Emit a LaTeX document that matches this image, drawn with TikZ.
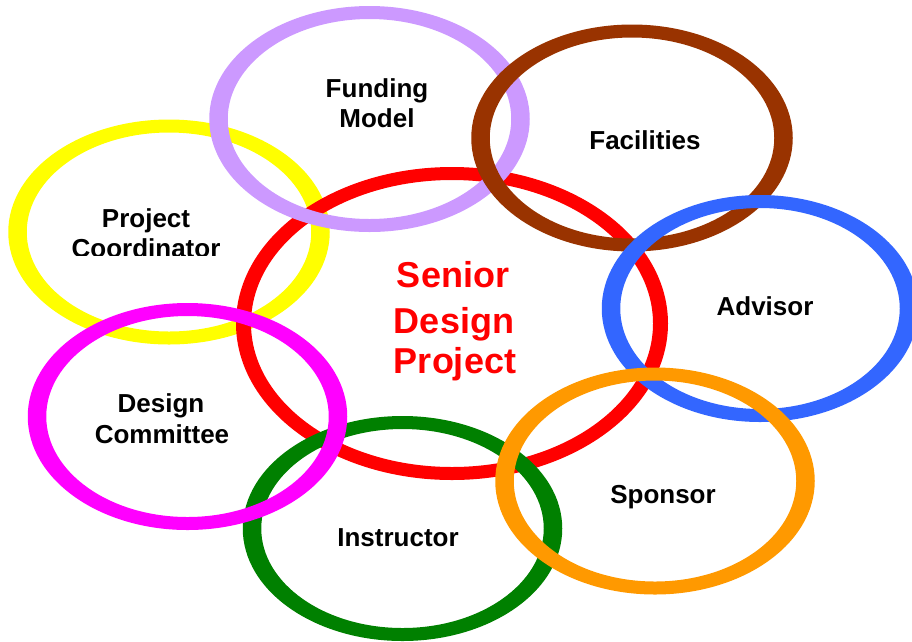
\documentclass[tikz,border=0pt]{standalone}
\usepackage{fontspec}
\setmainfont{Liberation Sans}
\definecolor{cpurple}{HTML}{CC99FF}
\definecolor{cbrown}{HTML}{993300}
\definecolor{cyellow}{HTML}{FFFF00}
\definecolor{cblue}{HTML}{3366FF}
\definecolor{cmagenta}{HTML}{FF00FF}
\definecolor{cgreen}{HTML}{008000}
\definecolor{corange}{HTML}{FF9900}
\definecolor{cred}{HTML}{FF0000}
% ring: colour, centre, x radius, y radius, half band width x, half band width y
\newcommand\myring[6]{%
  \fill[#1, even odd rule] (#2) ellipse [x radius=#3+#5, y radius=#4+#6]
                           (#2) ellipse [x radius=#3-#5, y radius=#4-#6];}
\tikzset{
  lbl/.style={font=\fontsize{26}{30}\selectfont\bfseries, text=black, anchor=base, inner sep=0pt},
  mainlbl/.style={font=\fontsize{36}{42}\selectfont\bfseries, text=cred, anchor=base, inner sep=0pt}
}
\begin{document}
\begin{tikzpicture}[x=1pt,y=-1pt]
\useasboundingbox (0,0) rectangle (912,641);
\begin{scope}
\clip (0,0) rectangle (912,641);
\myring{cyellow}{169,232}{151.5}{106}{9.25}{6.5}
\myring{cred}{452,323.5}{208.5}{150}{7.5}{6.5}
\myring{cpurple}{369.5,119}{151}{106.5}{9.25}{6.5}
\myring{cbrown}{632,138}{151.5}{107}{9.25}{6.5}
\myring{cblue}{760,308.5}{149}{107}{9.25}{6.5}
\myring{cgreen}{402.5,528.5}{150.5}{106}{9.25}{6.5}
\myring{corange}{655,481}{150.5}{107}{9.25}{6.5}
\myring{cmagenta}{187.5,416.5}{150.5}{107}{9.25}{6.5}
\end{scope}
% labels
\node[lbl] (fund1) at (377,97) {Funding};
\node[lbl] (fund2) at (377,127) {Model};
\node[lbl] (fac) at (645,149) {Facilities};
\node[lbl] (pc1) at (146,227) {Project};
\begin{scope}
\clip (0,0) rectangle (912,255);
\node[lbl] (pc2) at (146,257) {Coordinator};
\end{scope}
\node[lbl] (adv) at (765,315) {Advisor};
\node[lbl] (dc1) at (161,412) {Design};
\node[lbl] (dc2) at (162,443) {Committee};
\node[lbl] (ins) at (398,546) {Instructor};
\node[lbl] (spo) at (663,503) {Sponsor};
\node[mainlbl] (sdp1) at (453,287) {Senior};
\node[mainlbl] (sdp2) at (454,333) {Design};
\node[mainlbl] (sdp3) at (455,373) {Project};
\end{tikzpicture}
\end{document}
